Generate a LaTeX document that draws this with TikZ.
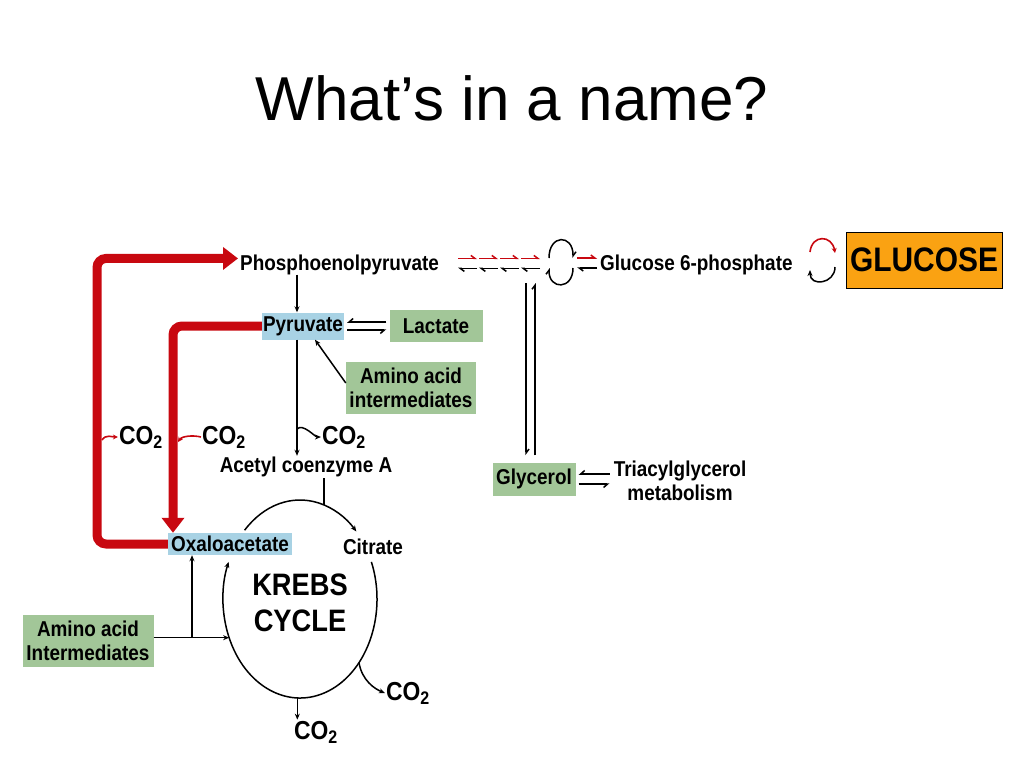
\documentclass[tikz,border=0pt]{standalone}
\usepackage{fontspec}
\setmainfont{Liberation Sans}
\newfontfamily\condfont[FakeStretch=0.88]{Liberation Sans}
\usetikzlibrary{arrows.meta,calc}
\definecolor{pathred}{RGB}{200,8,16}
\definecolor{boxblue}{RGB}{168,210,228}
\definecolor{boxgreen}{RGB}{162,198,152}
\definecolor{boxorange}{RGB}{250,162,18}
\newcommand{\cotwo}[0]{CO\textsubscript{2}}

\begin{document}
\begin{tikzpicture}[x=1pt, y=-1pt,
  lbl/.style={font=\condfont\bfseries\fontsize{21.5}{24}\selectfont, inner sep=1pt, align=center},
  co/.style={lbl, font=\condfont\bfseries\fontsize{26}{28}\selectfont},
  bluebox/.style={lbl, fill=boxblue, minimum height=27pt},
  greenbox/.style={lbl, fill=boxgreen},
  bigred/.style={draw=pathred, line width=9pt, rounded corners=9pt, -{Triangle[length=15pt,width=22pt]}},
  smallred/.style={draw=pathred, line width=1.6pt, -{Stealth[length=5pt,width=5pt]}},
  blk/.style={line width=1.5pt, -{Stealth[length=6pt,width=5pt]}},
  harp/.style={line width=1.5pt, -{Straight Barb[harpoon,swap,length=4pt,width=7pt]}, shorten >=3pt, shorten <=3pt},
  redh/.style={draw=pathred, line width=1.5pt, -{Straight Barb[harpoon,length=4pt,width=6pt]}},
  blkh/.style={line width=1.5pt, -{Straight Barb[harpoon,length=4pt,width=6pt]}}]
  \useasboundingbox (0,0) rectangle (1024,768);
  \node[font=\fontsize{62}{70}\selectfont, anchor=base] (title) at (512,120) {What’s in a name?};
  % upper row
  \node[lbl, anchor=base west, inner sep=0pt] (pep) at (240,270) {Phosphoenolpyruvate};
  \node[lbl, anchor=base west, inner sep=0pt] (g6p) at (600,270) {Glucose 6-phosphate};
  \node[draw, line width=1pt, fill=boxorange, font=\condfont\bfseries\fontsize{34}{36}\selectfont,
        minimum width=156pt, minimum height=56pt] (glu) at (924,260) {GLUCOSE};
  \node[bluebox] (pyr) at (303,326) {Pyruvate};
  \node[greenbox, minimum width=93pt, minimum height=32pt] (lac) at (436,326) {Lactate};
  \node[greenbox, minimum width=130pt, minimum height=52pt] (aai) at (411,388) {Amino acid\\intermediates};
  \node[co] (co2a) at (141,437) {\cotwo};
  \node[co] (co2b) at (224,437) {\cotwo};
  \node[co] (co2c) at (344,437) {\cotwo};
  \node[lbl] (acoa) at (306,467) {Acetyl coenzyme A};
  \node[greenbox, minimum width=83pt, minimum height=33pt] (gly) at (534,479) {Glycerol};
  \node[lbl] (tag) at (680,481) {Triacylglycerol\\metabolism};
  % krebs part
  \node[bluebox, minimum width=124pt, minimum height=22pt, inner sep=0pt] (oxa) at (230,544) {Oxaloacetate};
  \node[lbl] (cit) at (373,547) {Citrate};
  \node[font=\condfont\bfseries\fontsize{31}{36}\selectfont, align=center] (krebs) at (300,603) {KREBS\\CYCLE};
  \node[greenbox, minimum width=131pt, minimum height=52pt] (aai2) at (88,641) {Amino acid\\Intermediates};
  \node[co] (co2d) at (408,693) {\cotwo};
  \node[co] (co2e) at (316,732) {\cotwo};

  \coordinate (outer) at (97,400);
  \coordinate (inner) at (173,400);
  \coordinate (spine) at ($(pyr.south)+(-6,0)$);
  \coordinate (fork) at (530,283);
  \coordinate (lpl) at (549,263);
  \coordinate (lpr) at (573,263);
  \coordinate (ga) at (810,261);
  \coordinate (gb) at (835,261);
  \coordinate (kc) at ($(krebs.center)+(0,-4)$);
  \coordinate (jn) at ($(kc)+(-72:77 and 99)$);
  \coordinate (kin) at ($(kc)+(157:77 and 99)$);
  \coordinate (kout) at ($(kc)+(40:77 and 99)$);
  \coordinate (kbot) at ($(kc)+(92:77 and 99)$);

  % red bypass arrows
  \draw[bigred, shorten >=2pt] (oxa.west) -| (outer) |- ($(pep.west)+(0,-6)$);
  \draw[bigred] (pyr.west) -| (oxa.north west -| inner);
  \draw[smallred] ($(co2a.west -| outer)+(5,3)$) .. controls +(4,-6) and +(-6,0) .. (co2a.west);
  \draw[smallred] (co2b.west) .. controls +(-8,-2) and +(4,-6) .. ($(co2b.west -| inner)+(5,5)$);

  % pyruvate and acetyl CoA
  \draw[blk] (spine |- pep.south) -- ($(pyr.north)+(-6,0)$);
  \draw[blk] (spine) -- (spine |- acoa.north);
  \draw[blk] ($(spine |- co2c.west)+(0,-8)$) .. controls +(6,-6) and +(-6,0) .. (co2c.west);
  \draw[blk] ($(aai.west)+(0,-5)$) -- ($(pyr.south)+(12,0)$);
  \draw[harp] ($(lac.west)+(0,-4)$) -- ($(pyr.east)+(0,-4)$);
  \draw[harp] ($(pyr.east)+(0,4)$) -- ($(lac.west)+(0,4)$);

  % phosphoenolpyruvate to glucose
  \foreach \i in {0,1,2,3} {
    \draw[redh] ($(pep.east)+(19+21*\i,-6)$) -- ++(19,0);
    \draw[blkh] ($(pep.east)+(38+21*\i,4)$) -- ++(-19,0);
  }
  \draw[blkh] ($(lpl)+(0,-5)$) .. controls +(0,-24) and +(0,-24) .. ($(lpr)+(0,-5)$);
  \draw[blkh] ($(lpr)+(0,5)$) .. controls +(0,22) and +(0,22) .. ($(lpl)+(0,5)$);
  \draw[redh] ($(lpr)+(4,-5)$) -- ($(lpr -| g6p.west)+(-3,-5)$);
  \draw[blkh] ($(lpr -| g6p.west)+(-3,5)$) -- ($(lpr)+(4,5)$);
  \draw[smallred] ($(ga)+(0,-9)$) .. controls +(2,-18) and +(-3,-18) .. ($(gb)+(0,-8)$);
  \draw[blk] ($(gb)+(0,6)$) .. controls +(0,17) and +(0,17) .. ($(ga)+(0,9)$);

  % glycerol
  \draw[blkh] ($(gly.north |- fork)+(-8,0)$) -- ($(gly.north)+(-8,-7)$);
  \draw[blkh] ($(gly.north)+(1,-7)$) -- ($(gly.north |- fork)+(1,0)$);
  \draw[harp] ($(tag.west |- gly.east)+(0,-5)$) -- ($(gly.east)+(0,-5)$);
  \draw[harp] ($(gly.east)+(0,5)$) -- ($(tag.west |- gly.east)+(0,5)$);

  % krebs cycle
  \draw[blk] ($(kc)+(-136:77 and 99)$) arc[start angle=-136, end angle=-43, x radius=77, y radius=99];
  \draw[blk] ($(kc)+(-22:77 and 99)$) arc[start angle=-22, end angle=202, x radius=77, y radius=99];
  \draw[blk, -] (acoa.south -| jn) -- (jn);
  \draw[blk] (aai2.east |- kin) -- (kin);
  \draw[blk] ($(oxa.south |- kin)+(-38,0)$) -- ($(oxa.south)+(-38,0)$);
  \draw[blk] (kout) .. controls +(3,18) and +(-10,-4) .. (co2d.west);
  \draw[blk] (kbot) -- (kbot |- co2e.north);
\end{tikzpicture}
\end{document}
